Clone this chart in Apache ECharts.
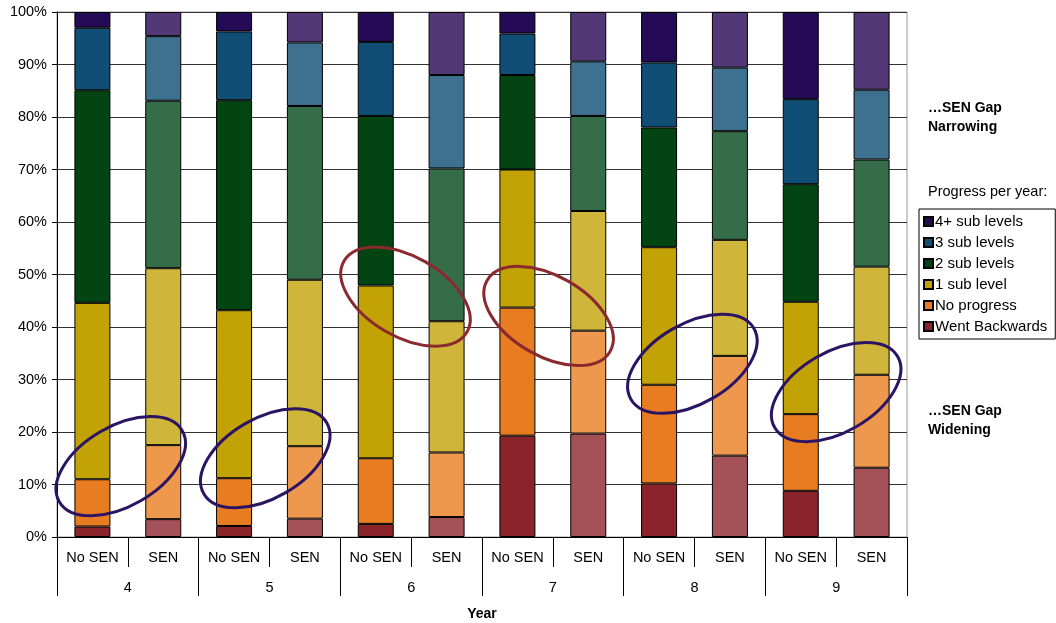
<!DOCTYPE html>
<html>
<head>
<meta charset="utf-8">
<title>Progress per year - SEN vs No SEN</title>
<script src="https://cdn.jsdelivr.net/npm/echarts@6/dist/echarts.min.js"></script>
<style>
  html, body { margin: 0; padding: 0; background: #fff; }
  #chart { width: 1056px; height: 623px; }
</style>
</head>
<body>
<div id="chart"></div>
<script>
// categories
const groupLabels = ['No SEN', 'SEN', 'No SEN', 'SEN', 'No SEN', 'SEN', 'No SEN', 'SEN', 'No SEN', 'SEN', 'No SEN', 'SEN'];
const years = ['4', '5', '6', '7', '8', '9'];
const yTicks = [0, 10, 20, 30, 40, 50, 60, 70, 80, 90, 100];

// percentage of pupils (bottom to top of each bar)
const wentBackwards = [2.0, 3.4, 2.1, 3.5, 2.5, 3.8, 19.3, 19.7, 10.2, 15.5, 8.8, 13.2];
const noProgress    = [9.0, 14.1, 9.1, 13.8, 12.5, 12.3, 24.4, 19.6, 18.8, 19.0, 14.6, 17.7];
const oneSubLevel   = [33.6, 33.7, 32.0, 31.7, 32.9, 25.0, 26.3, 22.8, 26.2, 22.1, 21.4, 20.6];
const twoSubLevels  = [40.5, 31.9, 40.0, 33.1, 32.3, 29.1, 18.0, 18.1, 22.8, 20.7, 22.4, 20.4];
const threeSubLevels = [11.9, 12.3, 13.1, 12.1, 14.1, 17.8, 7.9, 10.4, 12.4, 12.1, 16.2, 13.3];
const fourPlusSubLevels = [3.0, 4.6, 3.7, 5.8, 5.7, 12.0, 4.1, 9.4, 9.6, 10.6, 16.6, 14.8];

// series definitions: name, values, colour for No SEN, colour for SEN
const seriesDefs = [
  { name: 'Went Backwards', values: wentBackwards, dark: '#8b232a', light: '#a45158' },
  { name: 'No progress', values: noProgress, dark: '#e87c20', light: '#ee984d' },
  { name: '1 sub level', values: oneSubLevel, dark: '#c3a206', light: '#cfb53a' },
  { name: '2 sub levels', values: twoSubLevels, dark: '#024513', light: '#356d48' },
  { name: '3 sub levels', values: threeSubLevels, dark: '#114e75', light: '#3e708f' },
  { name: '4+ sub levels', values: fourPlusSubLevels, dark: '#250a55', light: '#533878' }
];

// ellipse annotations: [category index, percent], tilt
const ellipses = [
  { at: [0.40, 13.5], tilt: 1, color: '#2b1463' },
  { at: [2.44, 15.0], tilt: 1, color: '#2b1463' },
  { at: [4.42, 45.8], tilt: -1, color: '#8b2a2e' },
  { at: [6.44, 42.1], tilt: -1, color: '#8b2a2e' },
  { at: [8.47, 33.0], tilt: 1, color: '#2b1463' },
  { at: [10.50, 27.6], tilt: 1, color: '#2b1463' }
];

const FONT = 'Arial, "Liberation Sans", sans-serif';
const FS = 14.5;

const chartDom = document.getElementById('chart');
const myChart = echarts.init(chartDom, null, { renderer: 'canvas' });

const series = seriesDefs.map(function (def) {
  return {
    name: def.name,
    type: 'bar',
    stack: 'total',
    barWidth: 36,
    xAxisIndex: 0,
    yAxisIndex: 0,
    itemStyle: { color: def.dark, borderColor: '#000', borderWidth: 1 },
    emphasis: { disabled: true },
    data: def.values.map(function (v, i) {
      return { value: v, itemStyle: { color: i % 2 === 0 ? def.dark : def.light } };
    })
  };
});

const option = {
  animation: false,
  textStyle: { fontFamily: FONT },
  grid: {
    left: 57, right: 149, top: 12, bottom: 86,
    containLabel: false,
    outerBoundsMode: 'none',
    show: true, borderColor: '#9a9a9a', borderWidth: 1
  },
  legend: {
    orient: 'vertical',
    left: 919,
    top: 209,
    data: seriesDefs.map(d => d.name).reverse(),
    itemWidth: 9,
    itemHeight: 9,
    itemGap: 6,
    padding: [5, 8, 5, 4],
    borderColor: '#000',
    borderWidth: 1,
    icon: 'rect',
    selectedMode: false,
    textStyle: { fontFamily: FONT, fontSize: 15, color: '#000', padding: [0, 0, 0, -3] }
  },
  xAxis: [
    {
      type: 'category',
      position: 'bottom',
      data: groupLabels,
      axisLine: { show: true, lineStyle: { color: '#000', width: 1 } },
      axisTick: { show: true, interval: 0, length: 30, lineStyle: { color: '#000' } },
      axisLabel: { interval: 0, margin: 13, fontSize: FS, color: '#000', fontFamily: FONT },
      splitLine: { show: false }
    },
    {
      type: 'category',
      position: 'bottom',
      data: years,
      axisLine: { show: false },
      axisTick: { show: true, interval: 0, length: 59, lineStyle: { color: '#000' } },
      axisLabel: { interval: 0, margin: 43, fontSize: FS, color: '#000', fontFamily: FONT },
      splitLine: { show: false },
      name: 'Year',
      nameLocation: 'middle',
      nameGap: 70,
      nameTextStyle: { fontSize: 14, fontWeight: 'bold', color: '#000', fontFamily: FONT }
    }
  ],
  yAxis: {
    type: 'value',
    min: yTicks[0],
    max: yTicks[yTicks.length - 1],
    interval: 10,
    axisLine: { show: true, lineStyle: { color: '#000' } },
    axisTick: { show: true, length: 5, lineStyle: { color: '#000' } },
    axisLabel: { formatter: '{value}%', fontSize: FS, color: '#000', margin: 10, fontFamily: FONT },
    splitLine: { show: true, lineStyle: { color: '#333', width: 1 } }
  },
  series: series
};

myChart.setOption(option);

// pixel position of a fractional category index and a percent value
function toPixel(at) {
  const i0 = Math.floor(at[0]);
  const f = at[0] - i0;
  const a = myChart.convertToPixel({ xAxisIndex: 0, yAxisIndex: 0 }, [i0, at[1]]);
  const b = myChart.convertToPixel({ xAxisIndex: 0, yAxisIndex: 0 }, [i0 + 1, at[1]]);
  return [a[0] + (b[0] - a[0]) * f, a[1]];
}

// side notes and ellipses, placed after the axes exist
function drawAnnotations() {
  const graphics = [];
  const noteStyle = { fontFamily: FONT, fontSize: 14, fontWeight: 'bold', fill: '#000', lineHeight: 19 };

  graphics.push({ type: 'text', left: 928, top: 99, style: Object.assign({ text: '\u2026SEN Gap\nNarrowing' }, noteStyle) });
  graphics.push({ type: 'text', left: 928, top: 184, style: { text: 'Progress per year:', fontFamily: FONT, fontSize: FS, fill: '#000' } });
  graphics.push({ type: 'text', left: 928, top: 402, style: Object.assign({ text: '\u2026SEN Gap\nWidening' }, noteStyle) });

  ellipses.forEach(function (e) {
    const p = toPixel(e.at);
    graphics.push({
      type: 'ellipse',
      x: p[0],
      y: p[1],
      rotation: e.tilt * Math.PI / 6,
      shape: { cx: 0, cy: 0, rx: 71, ry: 40 },
      style: { fill: null, stroke: e.color, lineWidth: 3 },
      silent: true,
      z: 100
    });
  });

  myChart.setOption({ graphic: { elements: graphics } });
}

drawAnnotations();
</script>
</body>
</html>
